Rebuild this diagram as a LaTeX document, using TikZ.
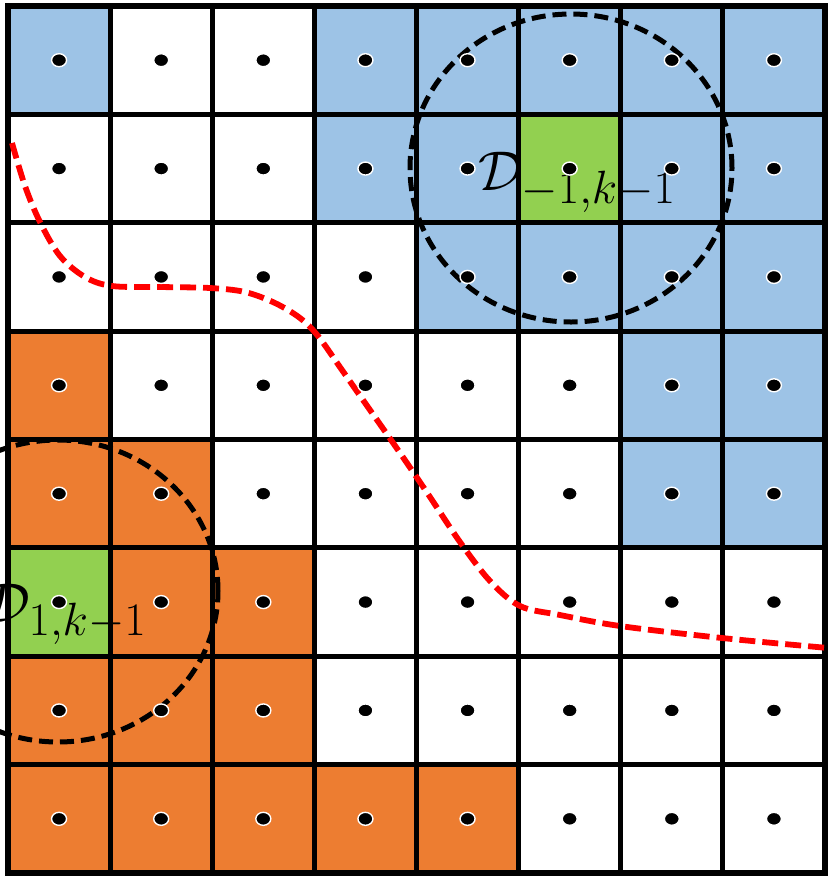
\documentclass[tikz,border=0pt]{standalone}
\usepackage{amsmath}
\definecolor{cblue}{HTML}{9DC3E6}
\definecolor{corange}{HTML}{ED7D31}
\definecolor{cgreen}{HTML}{92D050}
\definecolor{cred}{HTML}{FF0000}
\tikzset{
  gridline/.style={line width=5.2pt, black, line cap=rect},
  circdash/.style={line width=5pt, black, dash pattern=on 14pt off 7pt},
  redcurve/.style={line width=5.8pt, cred, dash pattern=on 16pt off 7pt},
  dotmark/.style={fill=black, draw=white, line width=1.4pt},
  lab/.style={anchor=base west, inner sep=0pt, font=\Huge, scale=2.25}
}
\begin{document}
\begin{tikzpicture}[x=1pt,y=-1pt]
\useasboundingbox (0,0) rectangle (832,884);
\fill[white] (0,0) rectangle (832,884);
\def\cw{102.125}
\def\ch{108.375}
% blue cells
\foreach \c/\r in {0/0,3/0,4/0,5/0,6/0,7/0,3/1,4/1,6/1,7/1,4/2,5/2,6/2,7/2,6/3,7/3,6/4,7/4}{
  \fill[cblue] ({8+\cw*\c},{6+\ch*\r}) rectangle ({8+\cw*(\c+1)},{6+\ch*(\r+1)});
}
% orange cells
\foreach \c/\r in {0/3,0/4,1/4,1/5,2/5,0/6,1/6,2/6,0/7,1/7,2/7,3/7,4/7}{
  \fill[corange] ({8+\cw*\c},{6+\ch*\r}) rectangle ({8+\cw*(\c+1)},{6+\ch*(\r+1)});
}
% green cells
\foreach \c/\r in {5/1,0/5}{
  \fill[cgreen] ({8+\cw*\c},{6+\ch*\r}) rectangle ({8+\cw*(\c+1)},{6+\ch*(\r+1)});
}
% grid
\foreach \i in {0,...,8}{
  \draw[gridline] ({8+\cw*\i},6) -- ({8+\cw*\i},873);
  \draw[gridline] (8,{6+\ch*\i}) -- (825,{6+\ch*\i});
}
% red boundary curve
\draw[redcurve] plot[smooth, tension=0.55] coordinates {
  (12,143) (25,186) (40,222) (60,256) (85,277) (112,286) (160,287) (210,288)
  (245,292) (275,303) (300,318) (318,336) (342,370) (370,410) (398,450)
  (428,494) (460,542) (490,581) (520,606) (560,615) (620,626) (722,638) (828,648)};
% dashed circles
\draw[circdash] (571,168) ellipse [x radius=161pt, y radius=154pt];
\draw[circdash] (58,591) ellipse [x radius=160pt, y radius=151pt];
% labels
\node[lab] (labA) at (478,190) {$\mathcal{D}_{-1,k-1}$};
\node[lab] (labB) at (-15,622) {$\mathcal{D}_{1,k-1}$};
% dots
\foreach \c in {0,...,7}{
  \foreach \r in {0,...,7}{
    \fill[dotmark] ({8+\cw*(\c+0.5)},{6+\ch*(\r+0.5)}) ellipse [x radius=7.5pt, y radius=6.5pt];
  }
}
\end{tikzpicture}
\end{document}
